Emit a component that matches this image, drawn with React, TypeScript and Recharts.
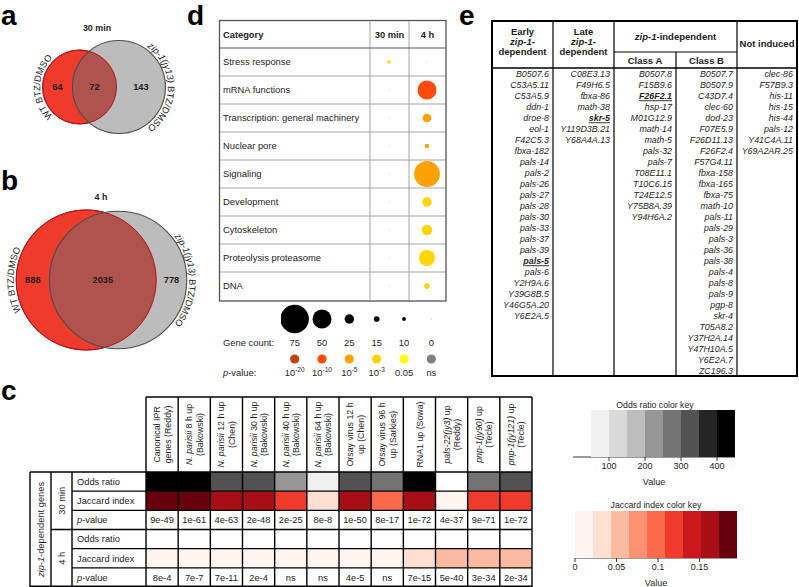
import React from 'react';
import { ScatterChart, Scatter, XAxis, YAxis } from 'recharts';

const FONT = '"Liberation Sans", Arial, Helvetica, sans-serif';
const INK = '#1c1c1c';

// a, b: Venn counts [WT only, shared, zip-1 only]
const venn30Counts = [64, 72, 143];
const venn4hCounts = [888, 2035, 778];

// d: enriched categories
const categories = [
  'Stress response',
  'mRNA functions',
  'Transcription: general machinery',
  'Nuclear pore',
  'Signaling',
  'Development',
  'Cytoskeleton',
  'Proteolysis proteasome',
  'DNA',
];
const timepoints = ['30 min', '4 h'];
const geneCount30 = [9, 0, 0, 0, 0, 0, 0, 0, 0];
const geneCount4h = [0, 50, 23, 12, 68, 25, 28, 42, 15];
const pLevel30 = ['10-3', 'ns', 'ns', 'ns', 'ns', 'ns', 'ns', 'ns', 'ns'];
const pLevel4h = ['ns', '10-10', '10-5', '10-5', '10-5', '10-3', '10-3', '10-3', '10-3'];
const countLegend = [75, 50, 25, 15, 10, 0];
const pLegend = ['10-20', '10-10', '10-5', '10-3', '0.05', 'ns'];
const pColors = ['#c8400f', '#ff4a0a', '#ffa200', '#ffd400', '#ffff00', '#808080'];

// c: overlap with published gene sets
const studies = [
  ['Canonical IPR', 'genes (Reddy)'],
  ['*N. parisii* 8 h up', '(Bakowski)'],
  ['*N. parisii* 12 h up', '(Chen)'],
  ['*N. parisii* 30 h up', '(Bakowski)'],
  ['*N. parisii* 40 h up', '(Bakowski)'],
  ['*N. parisii* 64 h up', '(Bakowski)'],
  ['Orsay virus 12 h', 'up (Chen)'],
  ['Orsay virus 96 h', 'up (Sarkies)'],
  ['RNA1 up (Sowa)'],
  ['*pals-22(jy3)* up', '(Reddy)'],
  ['*pnp-1(jy90)* up', '(Tecle)'],
  ['*pnp-1(jy121)* up', '(Tecle)'],
];
const odds30 = [440, 430, 320, 310, 225, 70, 320, 275, 435, 20, 270, 330];
const jaccard30 = [0.185, 0.18, 0.162, 0.158, 0.121, 0.03, 0.16, 0.098, 0.163, 0.012, 0.118, 0.122];
const pval30 = ['9e-49', '1e-61', '4e-63', '2e-48', '2e-25', '8e-8', '1e-50', '8e-17', '1e-72', '4e-37', '9e-71', '1e-72'];
const odds4h = [6, 9, 12, 5, 2, 2, 7, 2, 14, 30, 22, 22];
const jaccard4h = [0.008, 0.009, 0.01, 0.007, 0.004, 0.003, 0.008, 0.005, 0.03, 0.052, 0.055, 0.056];
const pval4h = ['8e-4', '7e-7', '7e-11', '2e-4', 'ns', 'ns', '4e-5', 'ns', '7e-15', '5e-40', '3e-34', '2e-34'];
const rowNames = ['Odds ratio', 'Jaccard index', '*p*-value'];

const greys = ['#f0f0f0', '#d9d9d9', '#bdbdbd', '#969696', '#737373', '#525252', '#252525', '#000000'];
const reds = ['#fff5f0', '#fee0d2', '#fcbba1', '#fc9272', '#fb6a4a', '#ef3b2c', '#cb181d', '#a50f15', '#67000d'];
const oddsKeyTicks = [100, 200, 300, 400];
const jaccardKeyTicks = [0, 0.05, 0.1, 0.15];
const ODDS_MIN = 50, ODDS_STEP = 50, ODDS_MAX = 450;
const JAC_MAX = 0.195, JAC_STEP = JAC_MAX / 9;

// e: gene classes
const earlyGenes = ['B0507.6', 'C53A5.11', 'C53A5.9', 'ddn-1', 'droe-8', 'eol-1', 'F42C5.3', 'fbxa-182', 'pals-14', 'pals-2', 'pals-26', 'pals-27', 'pals-28', 'pals-30', 'pals-33', 'pals-37', 'pals-39', 'pals-5', 'pals-6', 'Y2H9A.6', 'Y39G8B.5', 'Y46G5A.20', 'Y6E2A.5'];
const lateGenes = ['C08E3.13', 'F49H6.5', 'fbxa-86', 'math-38', 'skr-5', 'Y119D3B.21', 'Y68A4A.13'];
const classAGenes = ['B0507.8', 'F15B9.6', 'F26F2.1', 'hsp-17', 'M01G12.9', 'math-14', 'math-5', 'pals-32', 'pals-7', 'T08E11.1', 'T10C6.15', 'T24E12.5', 'Y75B8A.39', 'Y94H6A.2'];
const classBGenes = ['B0507.7', 'B0507.9', 'C43D7.4', 'clec-60', 'dod-23', 'F07E5.9', 'F26D11.13', 'F26F2.4', 'F57G4.11', 'fbxa-158', 'fbxa-165', 'fbxa-75', 'math-10', 'pals-11', 'pals-29', 'pals-3', 'pals-36', 'pals-38', 'pals-4', 'pals-8', 'pals-9', 'pgp-8', 'skr-4', 'T05A8.2', 'Y37H2A.14', 'Y47H10A.5', 'Y6E2A.7', 'ZC196.3'];
const notInducedGenes = ['clec-86', 'F57B9.3', 'his-11', 'his-15', 'his-44', 'pals-12', 'Y41C4A.11', 'Y69A2AR.25'];
const highlighted = ['pals-5', 'skr-5', 'F26F2.1'];

const rich = (s: string) =>
  s.split('*').map((part, i) =>
    part ? <tspan key={i} fontStyle={i % 2 ? 'italic' : 'normal'}>{part}</tspan> : null
  );

const pLabel = (s: string) =>
  s.startsWith('10-') ? (
    <>
      <tspan>10</tspan>
      <tspan dy={-4} fontSize={6.5}>{s.slice(2)}</tspan>
    </>
  ) : (
    s
  );

const oddsColor = (v: number) =>
  v < ODDS_MIN ? '#ffffff' : greys[Math.min(greys.length - 1, Math.floor((v - ODDS_MIN) / ODDS_STEP))];
const jaccardColor = (v: number) => reds[Math.min(reds.length - 1, Math.floor(v / JAC_STEP))];

// ---------- Venn geometry (area-proportional) ----------
function lensArea(r1: number, r2: number, d: number) {
  if (d >= r1 + r2) return 0;
  if (d <= Math.abs(r1 - r2)) return Math.PI * Math.min(r1, r2) ** 2;
  const a = r1 * r1 * Math.acos((d * d + r1 * r1 - r2 * r2) / (2 * d * r1));
  const b = r2 * r2 * Math.acos((d * d + r2 * r2 - r1 * r1) / (2 * d * r2));
  const c = 0.5 * Math.sqrt((-d + r1 + r2) * (d + r1 - r2) * (d - r1 + r2) * (d + r1 + r2));
  return a + b - c;
}
function solveDistance(r1: number, r2: number, target: number) {
  let lo = Math.abs(r1 - r2), hi = r1 + r2;
  for (let i = 0; i < 60; i++) {
    const mid = (lo + hi) / 2;
    if (lensArea(r1, r2, mid) > target) lo = mid;
    else hi = mid;
  }
  return (lo + hi) / 2;
}
const arc = (cx: number, cy: number, R: number, a0: number, a1: number) =>
  `M${cx + R * Math.cos(a0)},${cy + R * Math.sin(a0)} A${R},${R} 0 0 1 ${cx + R * Math.cos(a1)},${cy + R * Math.sin(a1)}`;

function VennPanel({ counts, k, midX, midY, top, width, height, uid }: any) {
  const [onlyA, both, onlyB] = counts;
  const rA = k * Math.sqrt(onlyA + both);
  const rB = k * Math.sqrt(onlyB + both);
  const d = solveDistance(rA, rB, Math.PI * k * k * both);
  const xA = midX - (d + rB - rA) / 2;
  const xB = xA + d;
  const setA = [{ x: xA, y: midY, r: rA }];
  const setB = [{ x: xB, y: midY, r: rB, dx: d, rA }];
  const nums = [
    { x: (xA - rA + xB - rB) / 2, y: midY, label: onlyA },
    { x: (xB - rB + xA + rA) / 2, y: midY, label: both },
    { x: (xA + rA + xB + rB) / 2, y: midY, label: onlyB },
  ];

  const shapeA = (p: any) => {
    const { cx, cy, payload } = p;
    const R = payload.r + 2.5;
    return (
      <g>
        <circle cx={cx} cy={cy} r={payload.r} fill="#ee3b2b" stroke="#b0161c" strokeWidth={1} />
        <path id={`${uid}-wt`} d={arc(cx, cy, R, Math.PI * 0.55, Math.PI * 1.45)} fill="none" />
        <text fontSize={9.3} fill={INK} fontFamily={FONT}>
          <textPath href={`#${uid}-wt`} startOffset="50%" textAnchor="middle">WT BTZ/DMSO</textPath>
        </text>
      </g>
    );
  };
  const shapeB = (p: any) => {
    const { cx, cy, payload } = p;
    const R = payload.r + 2.5;
    return (
      <g>
        <defs>
          <clipPath id={`${uid}-clip`}>
            <circle cx={cx} cy={cy} r={payload.r} />
          </clipPath>
        </defs>
        <circle cx={cx} cy={cy} r={payload.r} fill="#bdbcbc" />
        <circle cx={cx - payload.dx} cy={cy} r={payload.rA} fill="#b0534f" clipPath={`url(#${uid}-clip)`} />
        <circle cx={cx - payload.dx} cy={cy} r={payload.rA} fill="none" stroke="#b0161c" strokeWidth={1} />
        <circle cx={cx} cy={cy} r={payload.r} fill="none" stroke="#4a4a4a" strokeWidth={1.1} />
        <path id={`${uid}-zip`} d={arc(cx, cy, R, -Math.PI * 0.42, Math.PI * 0.42)} fill="none" />
        <text fontSize={9.3} fill={INK} fontFamily={FONT}>
          <textPath href={`#${uid}-zip`} startOffset="50%" textAnchor="middle">
            <tspan fontStyle="italic">zip-1(jy13)</tspan> BTZ/DMSO
          </textPath>
        </text>
      </g>
    );
  };
  const shapeNum = (p: any) => (
    <text x={p.cx} y={p.cy + 3.3} textAnchor="middle" fontSize={9.3} fontWeight="bold" fill={INK} fontFamily={FONT}>
      {p.payload.label}
    </text>
  );

  return (
    <div style={{ position: 'absolute', left: 0, top }}>
      <ScatterChart width={width} height={height} margin={{ top: 0, right: 0, bottom: 0, left: 0 }}>
        <XAxis type="number" dataKey="x" domain={[0, width]} allowDataOverflow hide />
        <YAxis type="number" dataKey="y" domain={[0, height]} allowDataOverflow reversed hide />
        <Scatter data={setA} shape={shapeA} isAnimationActive={false} />
        <Scatter data={setB} shape={shapeB} isAnimationActive={false} />
        <Scatter data={nums} shape={shapeNum} isAnimationActive={false} />
      </ScatterChart>
    </div>
  );
}

// ---------- d bubbles ----------
const BUBBLE_PX = 0.19;
const bubbleR = (n: number) => (n > 0 ? n * BUBBLE_PX : 0.7);
const pColorOf = (lvl: string) => pColors[pLegend.indexOf(lvl)];

function BubblePanel() {
  const data = categories.flatMap((c, i) => [
    { x: 0.5, y: i + 0.5, n: geneCount30[i], p: pLevel30[i] },
    { x: 1.5, y: i + 0.5, n: geneCount4h[i], p: pLevel4h[i] },
  ]);
  const shape = (p: any) => {
    const { cx, cy, payload } = p;
    const fill = payload.n > 0 ? pColorOf(payload.p) : '#d0d0d0';
    return <circle cx={cx} cy={cy} r={bubbleR(payload.n)} fill={fill} />;
  };
  return (
    <div style={{ position: 'absolute', left: 370, top: 48 }}>
      <ScatterChart width={76} height={252} margin={{ top: 0, right: 0, bottom: 0, left: 0 }}>
        <XAxis type="number" dataKey="x" domain={[0, timepoints.length]} allowDataOverflow hide />
        <YAxis type="number" dataKey="y" domain={[0, categories.length]} allowDataOverflow reversed hide />
        <Scatter data={data} shape={shape} isAnimationActive={false} />
      </ScatterChart>
    </div>
  );
}

function BubbleLegend() {
  const data = [
    ...countLegend.map((n, i) => ({ x: i + 0.5, y: 0.5, n, row: 0 })),
    ...pLegend.map((lvl, i) => ({ x: i + 0.5, y: 1.5, lvl, row: 1 })),
  ];
  const shape = (p: any) => {
    const { cx, cy, payload } = p;
    if (payload.row === 0) {
      return (
        <g>
          <circle cx={cx} cy={cy} r={bubbleR(payload.n)} fill={payload.n > 0 ? '#000' : '#d0d0d0'} />
          <text x={cx} y={cy + 27} textAnchor="middle" fontSize={9.4} fill={INK} fontFamily={FONT}>{payload.n}</text>
        </g>
      );
    }
    return (
      <g>
        <circle cx={cx} cy={cy} r={4.6} fill={pColorOf(payload.lvl)} />
        <text x={cx} y={cy + 17} textAnchor="middle" fontSize={9.4} fill={INK} fontFamily={FONT}>{pLabel(payload.lvl)}</text>
      </g>
    );
  };
  return (
    <div style={{ position: 'absolute', left: 280.5, top: 299 }}>
      <ScatterChart width={164} height={80} margin={{ top: 0, right: 0, bottom: 0, left: 0 }}>
        <XAxis type="number" dataKey="x" domain={[0, countLegend.length]} allowDataOverflow hide />
        <YAxis type="number" dataKey="y" domain={[0, 2]} allowDataOverflow reversed hide />
        <Scatter data={data} shape={shape} isAnimationActive={false} />
      </ScatterChart>
    </div>
  );
}

// ---------- c heatmap ----------
const C_LEFT = 146, C_TOP = 472, C_W = 386, C_H = 115;
const C_CW = C_W / studies.length, C_RH = C_H / 6;

function HeatmapPanel() {
  const rows = [
    odds30.map((v) => ({ fill: oddsColor(v) })),
    jaccard30.map((v) => ({ fill: jaccardColor(v) })),
    pval30.map((t) => ({ text: t })),
    odds4h.map((v) => ({ fill: oddsColor(v) })),
    jaccard4h.map((v) => ({ fill: jaccardColor(v) })),
    pval4h.map((t) => ({ text: t })),
  ];
  const data = rows.flatMap((row, r) => row.map((cell, j) => ({ x: j + 0.5, y: r + 0.5, ...cell })));
  const shape = (p: any) => {
    const { cx, cy, payload } = p;
    if (payload.text)
      return (
        <text x={cx} y={cy + 3.3} textAnchor="middle" fontSize={9.3} fill={INK} fontFamily={FONT}>{payload.text}</text>
      );
    return <rect x={cx - C_CW / 2} y={cy - C_RH / 2} width={C_CW} height={C_RH} fill={payload.fill} />;
  };
  return (
    <div style={{ position: 'absolute', left: C_LEFT, top: C_TOP }}>
      <ScatterChart width={C_W} height={C_H} margin={{ top: 0, right: 0, bottom: 0, left: 0 }}>
        <XAxis type="number" dataKey="x" domain={[0, studies.length]} allowDataOverflow hide />
        <YAxis type="number" dataKey="y" domain={[0, 6]} allowDataOverflow reversed hide />
        <Scatter data={data} shape={shape} isAnimationActive={false} />
      </ScatterChart>
    </div>
  );
}

function ColorKey({ left, top, colors, start, step, max, ticks, fmt }: any) {
  const plotW = 162, plotH = 47, axisH = 28, padB = 5;
  const data = colors.map((c: string, i: number) => ({ x: start + step * (i + 0.5), y: 0.5, fill: c }));
  const binPx = (step / max) * plotW;
  const shape = (p: any) => (
    <rect x={p.cx - binPx / 2} y={p.cy - plotH / 2} width={binPx} height={plotH} fill={p.payload.fill} />
  );
  return (
    <div style={{ position: 'absolute', left: left - 10, top }}>
      <ScatterChart
        width={plotW + 20}
        height={plotH + axisH + padB}
        margin={{ top: 0, right: 10, bottom: padB, left: 10 }}
      >
        <XAxis
          type="number"
          dataKey="x"
          domain={[0, max]}
          allowDataOverflow
          ticks={ticks}
          tickFormatter={fmt}
          height={axisH}
          tickSize={4}
          stroke="#333"
          tick={{ fontSize: 9, fill: INK, fontFamily: FONT }}
          label={{ value: 'Value', position: 'insideBottom', offset: 0, fontSize: 9, fill: INK, fontFamily: FONT }}
        />
        <YAxis type="number" dataKey="y" domain={[0, 1]} allowDataOverflow hide />
        <Scatter data={data} shape={shape} isAnimationActive={false} />
      </ScatterChart>
    </div>
  );
}

// ---------- static text & rules ----------
function Overlay() {
  const dRows = categories.map((_, i) => 48 + 28 * i);
  const cRowY = (i: number) => C_TOP + C_RH * i;
  const cColX = (j: number) => C_LEFT + C_CW * j;
  const geneCols = [earlyGenes, lateGenes, classAGenes, classBGenes, notInducedGenes];
  const geneRight = [549, 610, 672, 733, 793];
  return (
    <svg width={799} height={587} style={{ position: 'absolute', left: 0, top: 0, pointerEvents: 'none' }} fontFamily={FONT} fill={INK}>
      {/* panel letters */}
      <g fontSize={28} fontWeight="bold" fill="#000">
        <text x={1} y={25}>a</text>
        <text x={1} y={190}>b</text>
        <text x={1} y={400}>c</text>
        <text x={187} y={25}>d</text>
        <text x={459} y={25}>e</text>
      </g>
      <g fontSize={8.9} fontWeight="bold" textAnchor="middle">
        <text x={97} y={31}>30 min</text>
        <text x={101} y={200}>4 h</text>
      </g>

      {/* d table */}
      <g stroke="#9a9a9a" strokeWidth={0.9}>
        {dRows.slice(1).map((y) => (
          <line key={y} x1={219} x2={446} y1={y} y2={y} />
        ))}
        <line x1={370} x2={370} y1={20} y2={301} />
        <line x1={409} x2={409} y1={20} y2={301} />
      </g>
      <rect x={219.5} y={20.5} width={226.5} height={280.5} fill="none" stroke="#555" strokeWidth={1.3} />
      <line x1={219} x2={446} y1={48} y2={48} stroke="#555" strokeWidth={1.1} />
      <g fontSize={9.3} fontWeight="bold">
        <text x={223} y={37.5}>Category</text>
        <text x={389.5} y={37.5} textAnchor="middle">{timepoints[0]}</text>
        <text x={427.5} y={37.5} textAnchor="middle">{timepoints[1]}</text>
      </g>
      <g fontSize={9.4}>
        {categories.map((c, i) => (
          <text key={c} x={223} y={dRows[i] + 17.3}>{c}</text>
        ))}
        <text x={223} y={345.5}>Gene count:</text>
        <text x={223} y={375.5}>{rich('*p*-value:')}</text>
      </g>

      {/* e table */}
      <g stroke="#000">
        <rect x={492} y={21} width={305} height={355} fill="none" strokeWidth={2} />
        <line x1={553} x2={553} y1={21} y2={376} strokeWidth={1.2} />
        <line x1={614} x2={614} y1={21} y2={376} strokeWidth={1.2} />
        <line x1={737} x2={737} y1={21} y2={376} strokeWidth={1.2} />
        <line x1={676} x2={676} y1={52} y2={376} strokeWidth={1.2} />
        <line x1={614} x2={737} y1={52} y2={52} strokeWidth={1.2} />
        <line x1={492} x2={797} y1={68} y2={68} strokeWidth={1.6} />
      </g>
      <g fontSize={9.5} fontWeight="bold" textAnchor="middle">
        <text x={522.5} y={35}>Early</text>
        <text x={522.5} y={44.5} fontStyle="italic">zip-1-</text>
        <text x={522.5} y={54.5}>dependent</text>
        <text x={583.5} y={35}>Late</text>
        <text x={583.5} y={44.5} fontStyle="italic">zip-1-</text>
        <text x={583.5} y={54.5}>dependent</text>
        <text x={675.5} y={40}>{rich('*zip-1*-independent')}</text>
        <text x={645} y={64}>Class A</text>
        <text x={706.5} y={64}>Class B</text>
        <text x={767} y={47}>Not induced</text>
      </g>
      <g fontSize={8.9} fontStyle="italic" textAnchor="end">
        {geneCols.map((col, ci) =>
          col.map((g, i) => {
            const hi = highlighted.includes(g);
            return (
              <text
                key={g}
                x={geneRight[ci]}
                y={74 + 11 * i + 3.3}
                fontWeight={hi ? 'bold' : 'normal'}
                textDecoration={hi ? 'underline' : undefined}
              >
                {g}
              </text>
            );
          })
        )}
      </g>

      {/* c table */}
      <g stroke="#000" strokeWidth={1.4}>
        <line x1={C_LEFT} x2={C_LEFT + C_W} y1={397} y2={397} />
        {studies.map((_, j) => (
          <line key={j} x1={cColX(j)} x2={cColX(j)} y1={397} y2={587} />
        ))}
        <line x1={cColX(studies.length)} x2={cColX(studies.length)} y1={397} y2={587} />
        {[0, 1, 2, 3, 4, 5, 6].map((i) => (
          <line
            key={i}
            x1={i === 0 || i === 6 ? 30 : i === 3 ? 51 : 72}
            x2={C_LEFT + C_W}
            y1={Math.min(cRowY(i), 586.3)}
            y2={Math.min(cRowY(i), 586.3)}
          />
        ))}
        <line x1={30} x2={30} y1={C_TOP} y2={587} />
        <line x1={51} x2={51} y1={C_TOP} y2={587} />
        <line x1={72} x2={72} y1={C_TOP} y2={587} />
      </g>
      <g fontSize={8.8} textAnchor="middle">
        {studies.map((lines, j) => {
          const cx = cColX(j + 0.5);
          return (
            <g key={j} transform={`translate(${cx},434.5) rotate(-90)`}>
              {lines.map((ln, li) => (
                <text key={li} x={0} y={(li - (lines.length - 1) / 2) * 10.5 + 3.2}>
                  {rich(ln)}
                </text>
              ))}
            </g>
          );
        })}
      </g>
      <g fontSize={9.3}>
        {[0, 1, 2, 3, 4, 5].map((i) => (
          <text key={i} x={77} y={cRowY(i) + C_RH / 2 + 3.3}>{rich(rowNames[i % 3])}</text>
        ))}
      </g>
      <g fontSize={9.3} textAnchor="middle">
        <text transform={`translate(44,${cRowY(3)}) rotate(-90)`}>{rich('*zip-1*-dependent genes')}</text>
        <text transform={`translate(65,${cRowY(1.5)}) rotate(-90)`}>30 min</text>
        <text transform={`translate(65,${cRowY(4.5)}) rotate(-90)`}>4 h</text>
      </g>

      {/* color key titles */}
      <g fontSize={8.7} textAnchor="middle">
        <text x={655} y={408}>Odds ratio color key</text>
        <text x={656} y={508}>Jaccard index color key</text>
      </g>
    </svg>
  );
}

export default function App() {
  return (
    <div style={{ position: 'relative', width: 799, height: 587, background: '#fff', fontFamily: FONT, overflow: 'hidden' }}>
      <style>{'body{margin:0}'}</style>
      <VennPanel counts={venn30Counts} k={3.17} midX={104} midY={87} top={0} width={205} height={150} uid="v30" />
      <VennPanel counts={venn4hCounts} k={1.295} midX={101.5} midY={130} top={150} width={205} height={220} uid="v4h" />
      <BubblePanel />
      <BubbleLegend />
      <HeatmapPanel />
      <ColorKey left={573} top={410} colors={greys} start={ODDS_MIN} step={ODDS_STEP} max={ODDS_MAX} ticks={oddsKeyTicks} />
      <ColorKey
        left={575}
        top={511}
        colors={reds}
        start={0}
        step={JAC_STEP}
        max={JAC_MAX}
        ticks={jaccardKeyTicks}
        fmt={(v: number) => String(v)}
      />
      <Overlay />
    </div>
  );
}
